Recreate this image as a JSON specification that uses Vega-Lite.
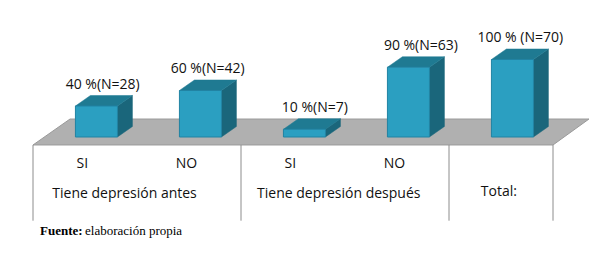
{"$schema":"https://vega.github.io/schema/vega-lite/v6.json","width":520,"height":77.5,"autosize":"none","padding":{"left":33,"top":59.5,"right":51,"bottom":118},"background":"white","view":{"stroke":null},"config":{"text":{"font":"Open Sans","fontSize":14,"fill":"#111111"}},"data":{"values":[{"group":"Tiene depresión antes","answer":"SI","pct":40,"n":28,"label":"40 %(N=28)"},{"group":"Tiene depresión antes","answer":"NO","pct":60,"n":42,"label":"60 %(N=42)"},{"group":"Tiene depresión después","answer":"SI","pct":10,"n":7,"label":"10 %(N=7)"},{"group":"Tiene depresión después","answer":"NO","pct":90,"n":63,"label":"90 %(N=63)"},{"group":"Total:","answer":"","pct":100,"n":70,"label":"100 % (N=70)"}]},"transform":[{"window":[{"op":"row_number","as":"rank"}]},{"calculate":"datum.rank-1","as":"slot"},{"calculate":"[0,1]","as":"edge"},{"flatten":["edge"]}],"encoding":{"x":{"field":"xa","type":"quantitative","axis":null,"scale":{"domain":[0,5],"nice":false,"zero":false}},"y":{"field":"ya","type":"quantitative","axis":null,"scale":{"domain":[0,100],"nice":false,"zero":false}}},"layer":[{"transform":[{"filter":"datum.slot==0"},{"calculate":"datum.edge*0.356","as":"xa"},{"calculate":"5+datum.edge*0.346","as":"xb"},{"calculate":"-10.3+datum.edge*33.5","as":"ya"}],"mark":{"type":"area","orient":"horizontal","fill":"#b0b0b0","stroke":"#9a9a9a","strokeWidth":1,"clip":false},"encoding":{"x2":{"field":"xb"}}},{"transform":[{"calculate":"datum.slot+0.812+datum.edge*0.144","as":"xa"},{"calculate":"datum.pct+datum.edge*13.55","as":"ya"},{"calculate":"datum.edge*13.55","as":"yb"}],"mark":{"type":"area","orient":"vertical","fill":"#1a667b","stroke":"#1a667b","strokeWidth":0.5},"encoding":{"y2":{"field":"yb"},"detail":{"field":"slot"}}},{"transform":[{"calculate":"datum.slot+0.408+datum.edge*0.144","as":"xa"},{"calculate":"datum.slot+0.812+datum.edge*0.144","as":"xb"},{"calculate":"datum.pct+datum.edge*13.55","as":"ya"}],"mark":{"type":"area","orient":"horizontal","fill":"#1f7a92","stroke":"#1f7a92","strokeWidth":0.5},"encoding":{"x2":{"field":"xb"},"detail":{"field":"slot"}}},{"transform":[{"filter":"datum.edge==0"},{"calculate":"datum.slot+0.408","as":"xa"},{"calculate":"datum.slot+0.812","as":"xb"},{"calculate":"datum.pct","as":"ya"},{"calculate":"0","as":"yb"}],"mark":{"type":"rect","fill":"#2b9fc1","stroke":"#2183a3","strokeWidth":1},"encoding":{"x2":{"field":"xb"},"y2":{"field":"yb"}}},{"transform":[{"filter":"(datum.edge==0&&datum.slot%2==0)||(datum.edge==1&&datum.slot==4)"},{"calculate":"datum.edge==1?5:datum.slot","as":"xa"},{"calculate":"-10.3","as":"ya"},{"calculate":"-108","as":"yb"}],"mark":{"type":"rule","stroke":"#8c8c8c","strokeWidth":1},"encoding":{"y2":{"field":"yb"}}},{"transform":[{"filter":"datum.edge==0"},{"calculate":"datum.slot+[0.67,0.68,0.71,0.73,0.685][datum.slot]","as":"xa"},{"calculate":"datum.pct","as":"ya"}],"mark":{"type":"text","dy":-21.5,"align":"center","baseline":"middle"},"encoding":{"text":{"field":"label"}}},{"transform":[{"filter":"datum.edge==0&&datum.answer!=''"},{"calculate":"datum.slot+0.475","as":"xa"},{"calculate":"-34.8","as":"ya"}],"mark":{"type":"text","align":"center","baseline":"middle","fontSize":14},"encoding":{"text":{"field":"answer"}}},{"transform":[{"filter":"datum.edge==0&&datum.slot%2==0"},{"calculate":"datum.slot==0?0.88:datum.slot==2?2.94:4.48","as":"xa"},{"calculate":"datum.slot==4?-71:-73.5","as":"ya"}],"mark":{"type":"text","align":"center","baseline":"middle"},"encoding":{"text":{"field":"group"}}},{"transform":[{"filter":"datum.edge==0&&datum.slot==0"},{"calculate":"0.067","as":"xa"},{"calculate":"-121","as":"ya"}],"mark":{"type":"text","text":"Fuente:","font":"Liberation Serif","fontSize":13,"fontWeight":"bold","align":"left","baseline":"middle","fill":"#000000"}},{"transform":[{"filter":"datum.edge==0&&datum.slot==0"},{"calculate":"0.5","as":"xa"},{"calculate":"-121","as":"ya"}],"mark":{"type":"text","text":"elaboración propia","font":"Liberation Serif","fontSize":13,"align":"left","baseline":"middle","fill":"#000000"}}]}
